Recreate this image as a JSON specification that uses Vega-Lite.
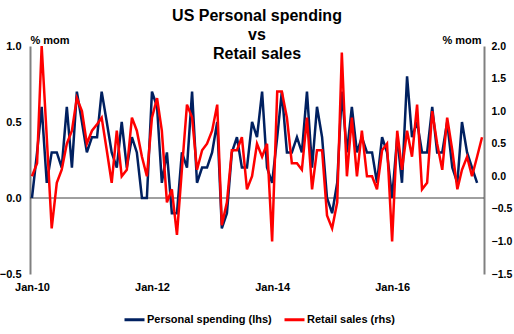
{
  "$schema": "https://vega.github.io/schema/vega-lite/v6.json",
  "width": 454,
  "height": 228,
  "autosize": {"type": "none"},
  "padding": {"left": 30, "top": 46, "right": 30, "bottom": 60},
  "background": "white",
  "title": {
    "text": ["US Personal spending", "vs", "Retail sales"],
    "fontSize": 16, "fontWeight": "bold", "font": "Liberation Sans",
    "lineHeight": 19, "anchor": "middle", "offset": -28, "color": "black"
  },
  "datasets": {
    "ps": [
      {"date": "2010-01-01", "v": 0.0}, {"date": "2010-02-01", "v": 0.3}, {"date": "2010-03-01", "v": 0.6}, {"date": "2010-04-01", "v": 0.1},
      {"date": "2010-05-01", "v": 0.3}, {"date": "2010-06-01", "v": 0.3}, {"date": "2010-07-01", "v": 0.2}, {"date": "2010-08-01", "v": 0.6},
      {"date": "2010-09-01", "v": 0.2}, {"date": "2010-10-01", "v": 0.7}, {"date": "2010-11-01", "v": 0.5}, {"date": "2010-12-01", "v": 0.3},
      {"date": "2011-01-01", "v": 0.4}, {"date": "2011-02-01", "v": 0.4}, {"date": "2011-03-01", "v": 0.7}, {"date": "2011-04-01", "v": 0.5},
      {"date": "2011-05-01", "v": 0.3}, {"date": "2011-06-01", "v": 0.2}, {"date": "2011-07-01", "v": 0.5}, {"date": "2011-08-01", "v": 0.2},
      {"date": "2011-09-01", "v": 0.4}, {"date": "2011-10-01", "v": 0.3}, {"date": "2011-11-01", "v": 0.0}, {"date": "2011-12-01", "v": 0.0},
      {"date": "2012-01-01", "v": 0.7}, {"date": "2012-02-01", "v": 0.6}, {"date": "2012-03-01", "v": 0.1}, {"date": "2012-04-01", "v": 0.3},
      {"date": "2012-05-01", "v": -0.1}, {"date": "2012-06-01", "v": -0.1}, {"date": "2012-07-01", "v": 0.3}, {"date": "2012-08-01", "v": 0.2},
      {"date": "2012-09-01", "v": 0.7}, {"date": "2012-10-01", "v": 0.1}, {"date": "2012-11-01", "v": 0.2}, {"date": "2012-12-01", "v": 0.2},
      {"date": "2013-01-01", "v": 0.3}, {"date": "2013-02-01", "v": 0.5}, {"date": "2013-03-01", "v": -0.2}, {"date": "2013-04-01", "v": -0.1},
      {"date": "2013-05-01", "v": 0.3}, {"date": "2013-06-01", "v": 0.4}, {"date": "2013-07-01", "v": 0.2}, {"date": "2013-08-01", "v": 0.2},
      {"date": "2013-09-01", "v": 0.5}, {"date": "2013-10-01", "v": 0.4}, {"date": "2013-11-01", "v": 0.7}, {"date": "2013-12-01", "v": 0.2},
      {"date": "2014-01-01", "v": 0.1}, {"date": "2014-02-01", "v": 0.4}, {"date": "2014-03-01", "v": 0.7}, {"date": "2014-04-01", "v": 0.3},
      {"date": "2014-05-01", "v": 0.3}, {"date": "2014-06-01", "v": 0.4}, {"date": "2014-07-01", "v": 0.3}, {"date": "2014-08-01", "v": 0.7},
      {"date": "2014-09-01", "v": 0.2}, {"date": "2014-10-01", "v": 0.6}, {"date": "2014-11-01", "v": 0.4}, {"date": "2014-12-01", "v": 0.0},
      {"date": "2015-01-01", "v": -0.1}, {"date": "2015-02-01", "v": 0.1}, {"date": "2015-03-01", "v": 0.7}, {"date": "2015-04-01", "v": 0.3},
      {"date": "2015-05-01", "v": 0.6}, {"date": "2015-06-01", "v": 0.3}, {"date": "2015-07-01", "v": 0.4}, {"date": "2015-08-01", "v": 0.3},
      {"date": "2015-09-01", "v": 0.3}, {"date": "2015-10-01", "v": 0.1}, {"date": "2015-11-01", "v": 0.4}, {"date": "2015-12-01", "v": 0.3},
      {"date": "2016-01-01", "v": 0.0}, {"date": "2016-02-01", "v": 0.4}, {"date": "2016-03-01", "v": 0.1}, {"date": "2016-04-01", "v": 0.8},
      {"date": "2016-05-01", "v": 0.4}, {"date": "2016-06-01", "v": 0.5}, {"date": "2016-07-01", "v": 0.3}, {"date": "2016-08-01", "v": 0.3},
      {"date": "2016-09-01", "v": 0.6}, {"date": "2016-10-01", "v": 0.3}, {"date": "2016-11-01", "v": 0.3}, {"date": "2016-12-01", "v": 0.5},
      {"date": "2017-01-01", "v": 0.2}, {"date": "2017-02-01", "v": 0.1}, {"date": "2017-03-01", "v": 0.5}, {"date": "2017-04-01", "v": 0.3},
      {"date": "2017-05-01", "v": 0.2}, {"date": "2017-06-01", "v": 0.1}
    ],
    "rs": [
      {"date": "2010-01-01", "v": 0.0}, {"date": "2010-02-01", "v": 0.2}, {"date": "2010-03-01", "v": 2.0}, {"date": "2010-04-01", "v": 0.6},
      {"date": "2010-05-01", "v": -0.8}, {"date": "2010-06-01", "v": -0.1}, {"date": "2010-07-01", "v": 0.1}, {"date": "2010-08-01", "v": 0.5},
      {"date": "2010-09-01", "v": 0.7}, {"date": "2010-10-01", "v": 1.2}, {"date": "2010-11-01", "v": 1.0}, {"date": "2010-12-01", "v": 0.5},
      {"date": "2011-01-01", "v": 0.7}, {"date": "2011-02-01", "v": 0.8}, {"date": "2011-03-01", "v": 0.9}, {"date": "2011-04-01", "v": 0.4},
      {"date": "2011-05-01", "v": -0.1}, {"date": "2011-06-01", "v": 0.7}, {"date": "2011-07-01", "v": 0.0}, {"date": "2011-08-01", "v": 0.1},
      {"date": "2011-09-01", "v": 0.9}, {"date": "2011-10-01", "v": 0.7}, {"date": "2011-11-01", "v": 0.3}, {"date": "2011-12-01", "v": 0.0},
      {"date": "2012-01-01", "v": 0.9}, {"date": "2012-02-01", "v": 1.2}, {"date": "2012-03-01", "v": 0.7}, {"date": "2012-04-01", "v": -0.4},
      {"date": "2012-05-01", "v": -0.2}, {"date": "2012-06-01", "v": -0.9}, {"date": "2012-07-01", "v": 0.1}, {"date": "2012-08-01", "v": 1.1},
      {"date": "2012-09-01", "v": 0.9}, {"date": "2012-10-01", "v": 0.1}, {"date": "2012-11-01", "v": 0.4}, {"date": "2012-12-01", "v": 0.5},
      {"date": "2013-01-01", "v": 0.7}, {"date": "2013-02-01", "v": 1.1}, {"date": "2013-03-01", "v": -0.75}, {"date": "2013-04-01", "v": -0.4},
      {"date": "2013-05-01", "v": 0.4}, {"date": "2013-06-01", "v": 0.4}, {"date": "2013-07-01", "v": 0.6}, {"date": "2013-08-01", "v": -0.2},
      {"date": "2013-09-01", "v": 0.0}, {"date": "2013-10-01", "v": 0.5}, {"date": "2013-11-01", "v": 0.3}, {"date": "2013-12-01", "v": 0.5},
      {"date": "2014-01-01", "v": -1.0}, {"date": "2014-02-01", "v": 1.3}, {"date": "2014-03-01", "v": 1.3}, {"date": "2014-04-01", "v": 0.9},
      {"date": "2014-05-01", "v": 0.2}, {"date": "2014-06-01", "v": 0.2}, {"date": "2014-07-01", "v": 0.1}, {"date": "2014-08-01", "v": 0.9},
      {"date": "2014-09-01", "v": -0.2}, {"date": "2014-10-01", "v": 0.4}, {"date": "2014-11-01", "v": 0.4}, {"date": "2014-12-01", "v": -0.6},
      {"date": "2015-01-01", "v": -0.8}, {"date": "2015-02-01", "v": -0.4}, {"date": "2015-03-01", "v": 1.9}, {"date": "2015-04-01", "v": 0.0},
      {"date": "2015-05-01", "v": 0.9}, {"date": "2015-06-01", "v": 0.0}, {"date": "2015-07-01", "v": 0.7}, {"date": "2015-08-01", "v": 0.0},
      {"date": "2015-09-01", "v": 0.0}, {"date": "2015-10-01", "v": -0.2}, {"date": "2015-11-01", "v": 0.4}, {"date": "2015-12-01", "v": 0.5},
      {"date": "2016-01-01", "v": -1.0}, {"date": "2016-02-01", "v": 0.7}, {"date": "2016-03-01", "v": 0.1}, {"date": "2016-04-01", "v": 0.7},
      {"date": "2016-05-01", "v": 0.3}, {"date": "2016-06-01", "v": 1.1}, {"date": "2016-07-01", "v": -0.2}, {"date": "2016-08-01", "v": -0.1},
      {"date": "2016-09-01", "v": 1.0}, {"date": "2016-10-01", "v": 0.5}, {"date": "2016-11-01", "v": 0.1}, {"date": "2016-12-01", "v": 0.9},
      {"date": "2017-01-01", "v": 0.4}, {"date": "2017-02-01", "v": -0.2}, {"date": "2017-03-01", "v": 0.1}, {"date": "2017-04-01", "v": 0.3},
      {"date": "2017-05-01", "v": 0.0}, {"date": "2017-06-01", "v": 0.3}, {"date": "2017-07-01", "v": 0.6}
    ]
  },
  "config": {
    "view": {"stroke": null},
    "axis": {
      "labelFont": "Liberation Sans", "labelFontWeight": "bold", "labelFontSize": 11, "labelColor": "black",
      "grid": false,
      "titleFont": "Liberation Sans", "titleFontWeight": "bold", "titleFontSize": 11, "titleColor": "black"
    },
    "legend": {
      "orient": "none", "legendX": 93, "legendY": 262, "direction": "horizontal",
      "symbolType": "stroke", "symbolSize": 400, "symbolStrokeWidth": 3,
      "labelFont": "Liberation Sans", "labelFontWeight": "bold", "labelFontSize": 11, "labelColor": "black",
      "labelOffset": 1, "columnPadding": 6, "padding": 0
    }
  },
  "layer": [
    {
      "layer": [
        {
          "data": {"values": [{}]},
          "mark": {"type": "rule", "color": "#404040", "strokeWidth": 1},
          "encoding": {
            "y": {
              "datum": 0, "type": "quantitative",
              "scale": {"domain": [-0.5, 1.0]},
              "axis": {"orient": "left", "values": [-0.5, 0, 0.5, 1.0], "format": ".1f", "ticks": false, "labelPadding": 9,
                       "domainColor": "#808080", "domainWidth": 2,
                       "title": "% mom", "titleAngle": 0, "titleX": 0, "titleY": -3, "titleAlign": "left", "titleBaseline": "alphabetic"}
            }
          }
        },
        {
          "data": {"name": "ps"},
          "mark": {"type": "line", "strokeWidth": 2.5},
          "encoding": {
            "x": {
              "field": "date", "type": "temporal",
              "scale": {"domain": [{"year": 2009, "month": 12, "date": 20}, {"year": 2017, "month": 7, "date": 13}]},
              "axis": {"values": [{"year": 2010, "month": 1, "date": 1}, {"year": 2012, "month": 1, "date": 1}, {"year": 2014, "month": 1, "date": 1}, {"year": 2016, "month": 1, "date": 1}],
                       "format": "%b-%y", "domain": false, "ticks": false, "labelPadding": 7, "title": null}
            },
            "y": {
              "field": "v", "type": "quantitative",
              "scale": {"domain": [-0.5, 1.0]},
              "axis": {"orient": "left", "values": [-0.5, 0, 0.5, 1.0], "format": ".1f", "ticks": false, "labelPadding": 9,
                       "domainColor": "#808080", "domainWidth": 2,
                       "title": "% mom", "titleAngle": 0, "titleX": 0, "titleY": -3, "titleAlign": "left", "titleBaseline": "alphabetic"}
            },
            "color": {
              "datum": "Personal spending (lhs)",
              "scale": {"domain": ["Personal spending (lhs)", "Retail sales (rhs)"], "range": ["#002060", "#FF0000"]},
              "legend": {"title": null}
            }
          }
        }
      ]
    },
    {
      "data": {"name": "rs"},
      "mark": {"type": "line", "strokeWidth": 2.5},
      "encoding": {
        "x": {
          "field": "date", "type": "temporal",
          "scale": {"domain": [{"year": 2009, "month": 12, "date": 20}, {"year": 2017, "month": 7, "date": 13}]},
          "axis": {"values": [{"year": 2010, "month": 1, "date": 1}, {"year": 2012, "month": 1, "date": 1}, {"year": 2014, "month": 1, "date": 1}, {"year": 2016, "month": 1, "date": 1}],
                   "format": "%b-%y", "domain": false, "ticks": false, "labelPadding": 7, "title": null}
        },
        "y": {
          "field": "v", "type": "quantitative",
          "scale": {"domain": [-1.5, 2.0]},
          "axis": {"orient": "right", "values": [-1.5, -1.0, -0.5, 0, 0.5, 1.0, 1.5, 2.0], "format": ".1f", "ticks": false, "labelPadding": 7,
                   "labelFontSize": 10.5,
                   "domainColor": "#808080", "domainWidth": 2,
                   "title": "% mom", "titleAngle": 0, "titleX": -3, "titleY": -3, "titleAlign": "right", "titleBaseline": "alphabetic"}
        },
        "color": {
          "datum": "Retail sales (rhs)",
          "scale": {"domain": ["Personal spending (lhs)", "Retail sales (rhs)"], "range": ["#002060", "#FF0000"]},
          "legend": {"title": null}
        }
      }
    }
  ],
  "resolve": {"scale": {"y": "independent"}}
}
